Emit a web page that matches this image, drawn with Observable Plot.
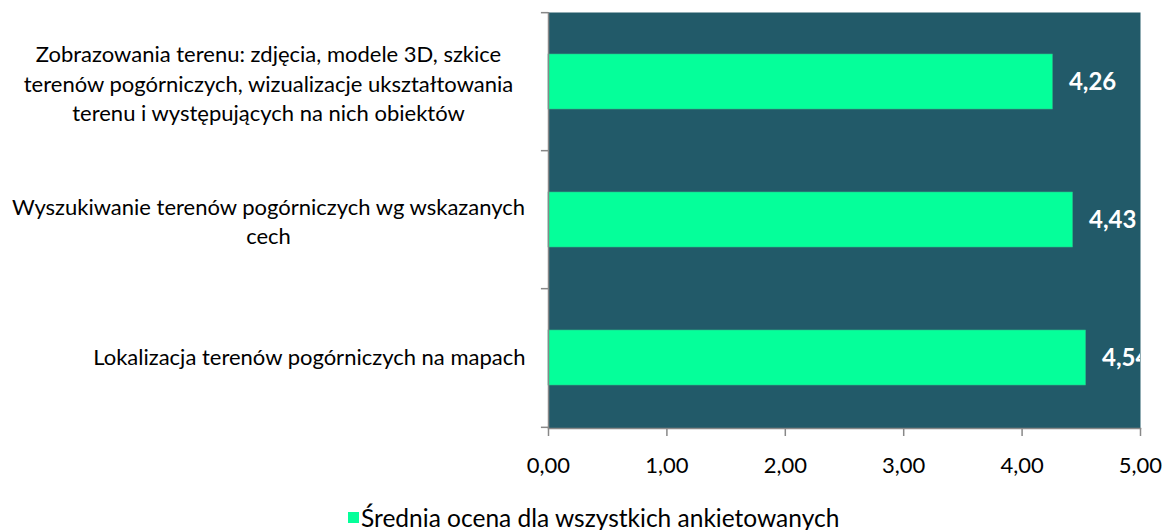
<!DOCTYPE html>
<html><head><meta charset="utf-8">
<script src="https://cdn.jsdelivr.net/npm/d3@7"></script>
<script src="https://cdn.jsdelivr.net/npm/@observablehq/plot@0.6"></script>
<style>
body{margin:0;background:#fff;font-family:Lato,"Open Sans",sans-serif;}
#legend{position:absolute;left:348px;top:503px;font-size:24.5px;color:#000;display:flex;align-items:center;white-space:nowrap;}
#legend span.sw{display:inline-block;width:11px;height:11px;background:#05FF9A;margin-right:2px;}
</style></head><body>
<div id="chart"></div>
<div id="legend"><span class="sw"></span><span id="legtext"></span></div>
<script>
const categories = [
  "Zobrazowania terenu: zdjęcia, modele 3D, szkice\nterenów pogórniczych, wizualizacje ukształtowania\nterenu i występujących na nich obiektów",
  "Wyszukiwanie terenów pogórniczych wg wskazanych\ncech",
  "Lokalizacja terenów pogórniczych na mapach"
];
const values = [4.26, 4.43, 4.54];
const xTicks = [0, 1, 2, 3, 4, 5];
const seriesName = "Średnia ocena dla wszystkich ankietowanych";

const data = categories.map((c, i) => ({cat: c, value: values[i]}));
const fmt2 = d => d3.format(".2f")(d).replace(".", ",");
const band = (428 - 12) / categories.length;

const plot = Plot.plot({
  width: 1166,
  height: 492,
  marginLeft: 548,
  marginRight: 26,
  marginTop: 12,
  marginBottom: 64,
  style: {fontFamily: "Lato, 'Open Sans', sans-serif", fontSize: "22px", color: "#000", background: "#fff"},
  x: {domain: [0, 5], ticks: xTicks, label: null},
  y: {domain: categories, paddingInner: 0.6, paddingOuter: 0.3, axis: null},
  marks: [
    Plot.frame({fill: "#225A69", stroke: "none"}),
    Plot.barX(data, {y: "cat", x: "value", fill: "#05FF9A", stroke: "#2bbf8a", strokeWidth: 0.6}),
    Plot.text(data, {y: "cat", x: "value", text: d => fmt2(d.value), textAnchor: "start", dx: 16, fill: "#fff", fontWeight: "bold", fontSize: 24, clip: true}),
    // y axis line & band-boundary ticks
    Plot.ruleX([0], {stroke: "#888", strokeWidth: 1.5}),
    Plot.ruleY(categories, {y: d => d, x1: -0.06, x2: 0, dy: -band / 2, stroke: "#888", strokeWidth: 1.5}),
    Plot.ruleY([categories[categories.length - 1]], {y: d => d, x1: -0.06, x2: 0, dy: band / 2, stroke: "#888", strokeWidth: 1.5}),
    // x axis
    Plot.frame({anchor: "bottom", stroke: "#888", strokeWidth: 1.5}),
    Plot.axisX({ticks: xTicks, tickFormat: fmt2, tickSize: 8, stroke: "#888", strokeWidth: 1.5, tickPadding: 21, fontSize: 22, fill: "#000", label: null}),
    // y labels
    Plot.text(data.filter(d => d.cat.includes("\n")), {y: "cat", text: "cat", frameAnchor: "left", textAnchor: "middle", dx: -280, lineHeight: 1.35, fontSize: 22, fill: "#000"}),
    Plot.text(data.filter(d => !d.cat.includes("\n")), {y: "cat", text: "cat", frameAnchor: "left", textAnchor: "end", dx: -23, fontSize: 22, fill: "#000"})
  ]
});
document.getElementById("chart").appendChild(plot);
document.getElementById("legtext").textContent = seriesName;
</script>
</body></html>
